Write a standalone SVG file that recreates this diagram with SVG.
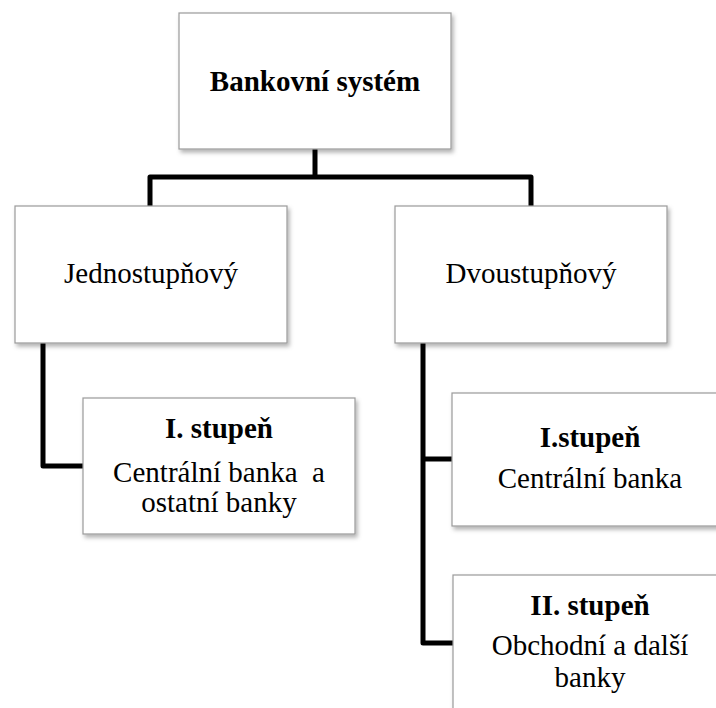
<svg xmlns="http://www.w3.org/2000/svg" width="716" height="708" viewBox="0 0 716 708">
  <defs>
    <filter id="shadow" x="-10%" y="-10%" width="130%" height="130%">
      <feDropShadow dx="2" dy="3" stdDeviation="2" flood-color="#000" flood-opacity="0.3"/>
    </filter>
  </defs>
  <style>
    .box { fill: #ffffff; stroke: #9a9a9a; stroke-width: 1.2; filter: url(#shadow); }
    .link { fill: none; stroke: #000000; stroke-width: 5; stroke-linejoin: round; }
    text { font-family: "Times New Roman", "Liberation Serif", "DejaVu Serif", serif; fill: #000000; text-anchor: middle; }
    .t { font-size: 29px; font-weight: normal; }
    .b { font-size: 29px; font-weight: bold; }
  </style>
  <rect width="716" height="708" fill="#ffffff"/>

  <!-- connectors -->
  <g id="connectors">
    <path class="link" d="M315,149 V177"/>
    <path class="link" d="M150,206 V177 H531 V206"/>
    <path class="link" d="M43,343 V466 H83"/>
    <path class="link" d="M423,343 V643 H453"/>
    <path class="link" d="M423,459 H452"/>
  </g>

  <g id="root">
    <rect class="box" x="179" y="13" width="272" height="136"/>
    <text class="b" x="315" y="91">Bankovní systém</text>
  </g>

  <g id="single">
    <rect class="box" x="15" y="206" width="272" height="137"/>
    <text class="t" x="151" y="283">Jednostupňový</text>
  </g>

  <g id="double">
    <rect class="box" x="395" y="206" width="272" height="137"/>
    <text class="t" x="531" y="283">Dvoustupňový</text>
  </g>

  <g id="single-tier">
    <rect class="box" x="83" y="398" width="272" height="136"/>
    <text class="b" x="219" y="438">I. stupeň</text>
    <text class="t" x="219" y="482" xml:space="preserve">Centrální banka  a</text>
    <text class="t" x="219" y="512">ostatní banky</text>
  </g>

  <g id="tier-one">
    <rect class="box" x="452" y="393" width="278" height="133"/>
    <text class="b" x="590" y="447">I.stupeň</text>
    <text class="t" x="590" y="488">Centrální banka</text>
  </g>

  <g id="tier-two">
    <rect class="box" x="453" y="575" width="278" height="150"/>
    <text class="b" x="590" y="615">II. stupeň</text>
    <text class="t" x="590" y="655">Obchodní a další</text>
    <text class="t" x="590" y="687">banky</text>
  </g>
</svg>
